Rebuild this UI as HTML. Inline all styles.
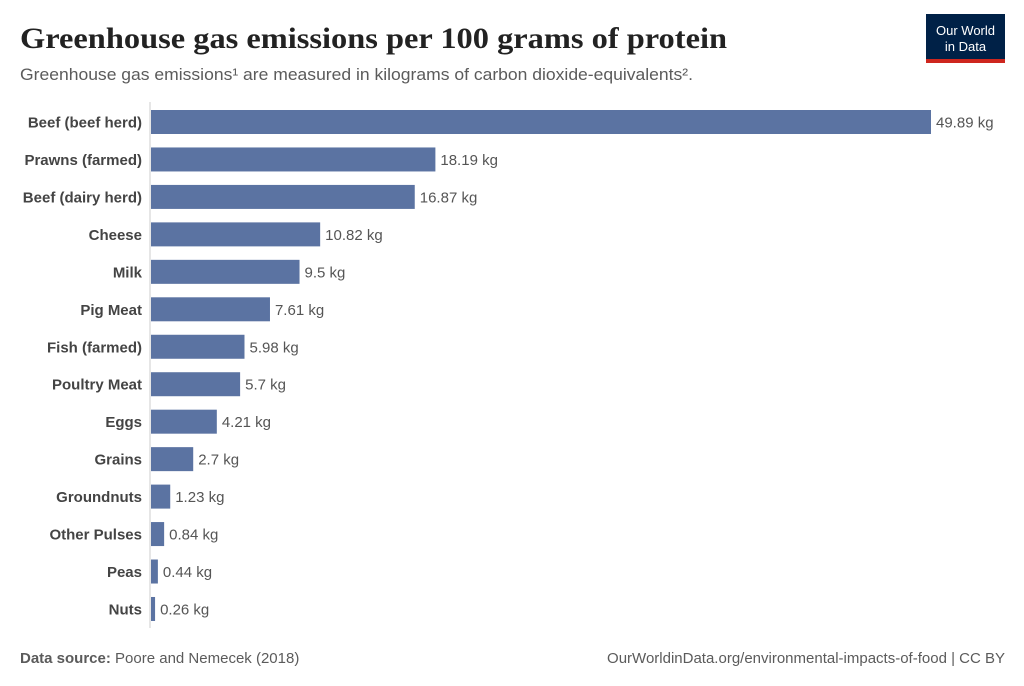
<!DOCTYPE html>
<html><head><meta charset="utf-8"><style>
body{margin:0;background:#fff;width:1024px;height:686px;overflow:hidden}
svg{display:block}
</style></head><body>
<svg id="chart" width="1024" height="686" xmlns="http://www.w3.org/2000/svg" font-family="Liberation Sans, sans-serif">
<text x="20" y="48" font-family="Liberation Serif, serif" font-weight="bold" font-size="30" fill="#222" textLength="707" lengthAdjust="spacingAndGlyphs">Greenhouse gas emissions per 100 grams of protein</text>
<text x="20" y="80" font-size="17" fill="#5b5b5b" textLength="673" lengthAdjust="spacingAndGlyphs">Greenhouse gas emissions¹ are measured in kilograms of carbon dioxide-equivalents².</text>
<g>
<rect x="926" y="14" width="79" height="49" fill="#002147"/>
<rect x="926" y="59" width="79" height="4" fill="#ce261e"/>
<text x="965.5" y="35" font-size="13" fill="#fff" text-anchor="middle">Our World</text>
<text x="965.5" y="51" font-size="13" fill="#fff" text-anchor="middle">in Data</text>
</g>
<line x1="150" y1="102" x2="150" y2="628" stroke="#ccc" stroke-width="1"/>
<g id="bars"></g>
<text x="20" y="663" font-size="15" fill="#5b5b5b"><tspan font-weight="bold">Data source:</tspan> Poore and Nemecek (2018)</text>
<text x="1005" y="663" font-size="15" fill="#5b5b5b" text-anchor="end">OurWorldinData.org/environmental-impacts-of-food | CC BY</text>
</svg>
<script>
const categories=["Beef (beef herd)","Prawns (farmed)","Beef (dairy herd)","Cheese","Milk","Pig Meat","Fish (farmed)","Poultry Meat","Eggs","Grains","Groundnuts","Other Pulses","Peas","Nuts"];
const values=[49.89,18.19,16.87,10.82,9.5,7.61,5.98,5.7,4.21,2.7,1.23,0.84,0.44,0.26];
const labels=["49.89 kg","18.19 kg","16.87 kg","10.82 kg","9.5 kg","7.61 kg","5.98 kg","5.7 kg","4.21 kg","2.7 kg","1.23 kg","0.84 kg","0.44 kg","0.26 kg"];
const x0=151,x1=931,vmax=49.89;
const xs=v=>x0+(v/vmax)*(x1-x0);
const ys=i=>122+i*37.46;
const g=document.getElementById('bars');
const NS='http://www.w3.org/2000/svg';
categories.forEach((c,i)=>{
 const y=ys(i);
 const r=document.createElementNS(NS,'rect');
 r.setAttribute('x',x0);r.setAttribute('y',y-12);
 r.setAttribute('width',Math.max(xs(values[i])-x0,0));r.setAttribute('height',24);
 r.setAttribute('fill','#5b73a2');
 
 
 g.appendChild(r);
 const t=document.createElementNS(NS,'text');
 t.setAttribute('x',142);t.setAttribute('y',y+5.5);
 t.setAttribute('text-anchor','end');t.setAttribute('font-size','15');
 t.setAttribute('font-weight','bold');t.setAttribute('fill','#444');
 t.textContent=c;
 
 
 g.appendChild(t);
 const v=document.createElementNS(NS,'text');
 v.setAttribute('x',xs(values[i])+5);v.setAttribute('y',y+5.5);
 v.setAttribute('font-size','15');v.setAttribute('fill','#555');
 v.textContent=labels[i];
 
 
 g.appendChild(v);
});
</script>
</body></html>
